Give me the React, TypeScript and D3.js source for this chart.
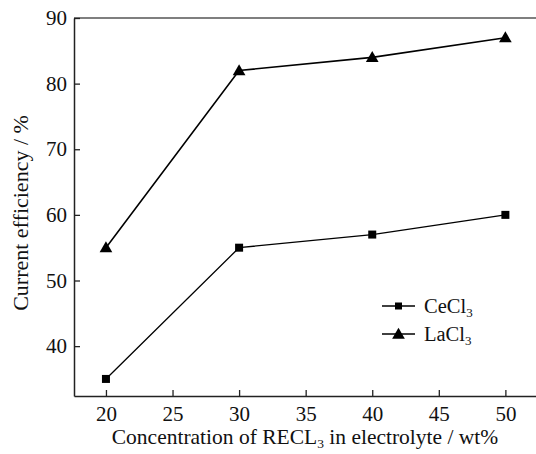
import React, { useEffect, useRef } from "react";
import * as d3 from "d3";

const concentrations = [20, 30, 40, 50];
const ceCl3 = [35, 55, 57, 60];
const laCl3 = [55, 82, 84, 87];
const xTicks = [20, 25, 30, 35, 40, 45, 50];
const yTicks = [40, 50, 60, 70, 80, 90];

const FONT = "'Liberation Serif', 'Times New Roman', Times, serif";

export default function App() {
  const ref = useRef<SVGSVGElement>(null);

  useEffect(() => {
    const svg = d3.select(ref.current);
    svg.selectAll("*").remove();

    const left = 74;
    const top = 18;
    const bottom = 396;
    const right = 540;

    const x = d3.scaleLinear().domain([17.6, 52.6]).range([left, right]);
    const y = d3.scaleLinear().domain([32.4, 90]).range([bottom, top]);

    // frame: top line
    svg
      .append("line")
      .attr("x1", left)
      .attr("x2", right)
      .attr("y1", top)
      .attr("y2", top)
      .attr("stroke", "#555")
      .attr("stroke-width", 1.5);

    const xAxis = d3.axisBottom(x).tickValues(xTicks).tickSizeInner(-6).tickSizeOuter(0).tickPadding(8);
    const yAxis = d3.axisLeft(y).tickValues(yTicks).tickSizeInner(-6).tickSizeOuter(0).tickPadding(7);

    const gx = svg.append("g").attr("transform", "translate(0," + bottom + ")").call(xAxis);
    const gy = svg.append("g").attr("transform", "translate(" + left + ",0)").call(yAxis);

    [gx, gy].forEach((g) => {
      g.attr("font-family", FONT);
      g.select(".domain").attr("stroke", "#222").attr("stroke-width", 1.5);
      g.selectAll(".tick line").attr("stroke", "#222").attr("stroke-width", 1.3);
      g.selectAll(".tick text")
        .attr("fill", "#111")
        .style("font-family", FONT)
        .style("font-size", "21px");
    });
    gx.selectAll(".tick text").attr("dy", "0.8em");

    const line = d3
      .line<number>()
      .x((d, i) => x(concentrations[i]))
      .y((d) => y(d));

    svg
      .append("path")
      .datum(ceCl3)
      .attr("fill", "none")
      .attr("stroke", "#000")
      .attr("stroke-width", 1.3)
      .attr("d", line);

    svg
      .append("path")
      .datum(laCl3)
      .attr("fill", "none")
      .attr("stroke", "#000")
      .attr("stroke-width", 1.6)
      .attr("d", line);

    const tri = d3.symbol().type(d3.symbolTriangle).size(70);

    svg
      .selectAll(".sq")
      .data(ceCl3)
      .enter()
      .append("rect")
      .attr("x", (d, i) => x(concentrations[i]) - 4)
      .attr("y", (d) => y(d) - 4)
      .attr("width", 8)
      .attr("height", 8)
      .attr("fill", "#000");

    svg
      .selectAll(".tri")
      .data(laCl3)
      .enter()
      .append("path")
      .attr("d", tri)
      .attr("transform", (d, i) => "translate(" + x(concentrations[i]) + "," + (y(d) + 1) + ")")
      .attr("fill", "#000");

    // legend
    const legend = svg.append("g").attr("transform", "translate(382,306)");
    legend.append("line").attr("x1", 0).attr("x2", 33).attr("y1", 0).attr("y2", 0).attr("stroke", "#000").attr("stroke-width", 1.3);
    legend.append("rect").attr("x", 13).attr("y", -3.5).attr("width", 7).attr("height", 7).attr("fill", "#000");
    legend.append("line").attr("x1", 0).attr("x2", 33).attr("y1", 28).attr("y2", 28).attr("stroke", "#000").attr("stroke-width", 1.3);
    legend.append("path").attr("d", tri).attr("transform", "translate(16.5,29)").attr("fill", "#000");

    const legendText = (ty: number, name: string) => {
      const t = legend
        .append("text")
        .attr("x", 42)
        .attr("y", ty + 7)
        .style("font-family", FONT)
        .style("font-size", "20.5px")
        .attr("fill", "#111");
      t.append("tspan").text(name);
      t.append("tspan").attr("dy", 4).style("font-size", "13px").text("3");
    };
    legendText(0, "CeCl");
    legendText(28, "LaCl");

    // x axis title
    const xt = svg
      .append("text")
      .attr("x", 305)
      .attr("y", 444)
      .attr("text-anchor", "middle")
      .style("font-family", FONT)
      .style("font-size", "21.5px")
      .attr("fill", "#111");
    xt.append("tspan").text("Concentration of RECL");
    xt.append("tspan").attr("dy", 4).style("font-size", "13.5px").text("3");
    xt.append("tspan").attr("dy", -4).text(" in electrolyte / wt%");

    // y axis title
    svg
      .append("text")
      .attr("transform", "translate(28,213) rotate(-90)")
      .attr("text-anchor", "middle")
      .style("font-family", FONT)
      .style("font-size", "22px")
      .attr("fill", "#111")
      .text("Current efficiency / %");
  }, []);

  return (
    <svg
      ref={ref}
      width={536}
      height={454}
      style={{ position: "absolute", left: 0, top: 0, background: "#fff" }}
    />
  );
}
